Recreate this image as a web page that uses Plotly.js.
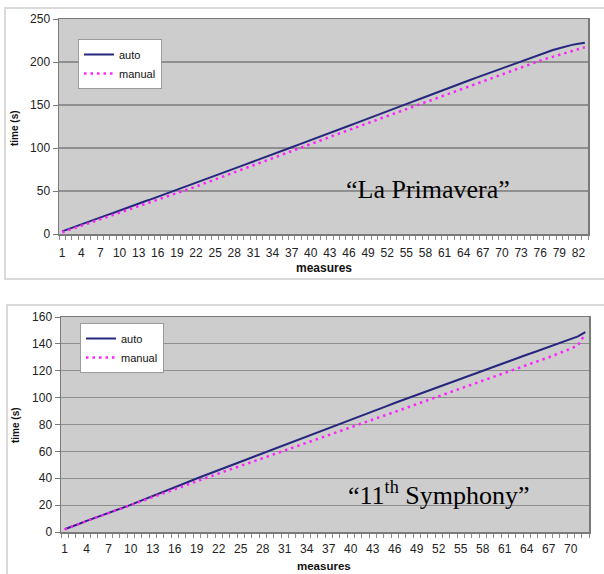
<!DOCTYPE html>
<html>
<head>
<meta charset="utf-8">
<script src="https://cdn.plot.ly/plotly-3.0.1.min.js"></script>
<style>html,body{margin:0;padding:0;background:#fff;}#chart{width:604px;height:574px;}</style>
</head>
<body>
<div id="chart"></div>
<script>
// ---------- data ----------
const measuresTop = [1,2,3,4,5,6,7,8,9,10,11,12,13,14,15,16,17,18,19,20,21,22,23,24,25,26,27,28,29,30,31,32,33,34,35,36,37,38,39,40,41,42,43,44,45,46,47,48,49,50,51,52,53,54,55,56,57,58,59,60,61,62,63,64,65,66,67,68,69,70,71,72,73,74,75,76,77,78,79,80,81,82,83];
const autoTop = [3.0,5.8,8.2,11.0,13.5,16.4,19.0,21.9,24.4,27.3,29.9,32.7,35.2,38.1,40.6,43.4,45.9,48.7,51.4,54.3,56.8,59.7,62.4,65.2,67.8,70.7,73.4,76.0,78.9,81.6,84.3,87.2,89.8,92.6,95.3,98.2,100.9,103.6,106.5,109.1,111.9,114.8,117.5,120.3,123.2,125.9,128.7,131.6,134.3,137.1,140.0,142.7,145.6,148.4,151.2,154.0,156.7,159.6,162.3,165.1,167.9,170.6,173.5,176.2,179.0,181.8,184.5,187.4,190.1,192.8,195.7,198.4,201.1,203.8,206.4,209.0,211.5,213.9,216.0,218.1,219.9,221.3,222.4];
const manualTop = [2.0,4.5,7.0,9.5,12.0,14.6,17.1,19.6,22.1,24.6,27.1,29.6,32.2,34.7,37.2,39.7,42.2,44.8,47.3,49.8,52.5,55.2,58.0,60.7,63.5,66.2,69.0,71.7,74.5,77.2,80.0,82.7,85.5,88.2,91.0,93.7,96.5,99.2,101.9,104.6,107.4,110.1,112.8,115.6,118.3,121.0,123.8,126.5,129.2,132.0,134.7,137.4,140.2,142.9,145.6,148.4,151.1,153.8,156.4,159.1,161.7,164.4,167.1,169.7,172.4,175.0,177.7,180.4,183.0,185.7,188.3,191.0,193.6,196.3,198.9,201.6,203.9,206.1,208.4,210.6,212.8,215.0,217.2];
const ticksTop = [1,4,7,10,13,16,19,22,25,28,31,34,37,40,43,46,49,52,55,58,61,64,67,70,73,76,79,82];

const measuresBot = [1,2,3,4,5,6,7,8,9,10,11,12,13,14,15,16,17,18,19,20,21,22,23,24,25,26,27,28,29,30,31,32,33,34,35,36,37,38,39,40,41,42,43,44,45,46,47,48,49,50,51,52,53,54,55,56,57,58,59,60,61,62,63,64,65,66,67,68,69,70,71,72];
const autoBot = [2.0,4.3,6.1,8.3,10.2,12.3,14.1,16.2,18.1,20.2,22.4,24.5,26.8,28.9,31.2,33.3,35.5,37.6,39.8,41.9,44.0,46.1,48.3,50.3,52.5,54.6,56.6,58.8,60.9,62.9,65.1,67.1,69.3,71.3,73.5,75.5,77.7,79.8,81.8,83.9,85.8,87.9,89.9,92.0,93.9,96.0,98.0,100.0,102.1,104.1,106.2,108.1,110.2,112.2,114.3,116.3,118.4,120.4,122.3,124.3,126.1,128.1,130.0,131.9,133.8,135.8,137.6,139.6,141.6,143.5,145.6,148.8];
const manualBot = [2.0,4.2,6.1,8.2,10.2,12.2,14.1,16.1,18.0,20.0,22.0,24.0,25.9,27.9,29.8,31.8,33.8,35.8,37.7,39.7,41.7,43.6,45.5,47.4,49.2,51.1,53.0,54.9,56.8,58.7,60.6,62.4,64.3,66.2,68.0,69.9,71.8,73.7,75.5,77.4,79.3,81.2,83.2,85.1,87.1,89.1,91.1,93.1,95.1,97.1,99.1,101.0,102.9,104.8,106.8,108.7,110.7,112.6,114.5,116.4,118.3,120.2,122.0,124.0,125.9,128.0,130.0,132.1,134.2,136.4,139.0,147.5];
const ticksBot = [1,4,7,10,13,16,19,22,25,28,31,34,37,40,43,46,49,52,55,58,61,64,67,70];

// ---------- geometry helpers (pixels -> paper) ----------
const W = 604, H = 574;
const px = x => x / W;
const py = y => 1 - y / H;

const AUTO_C = '#26267f', MAN_C = '#ff22ff';
const FONT = 'Liberation Sans, Arial, sans-serif';

const traces = [
  {x: measuresTop, y: autoTop, name: 'auto', type: 'scatter', mode: 'lines',
   line: {color: AUTO_C, width: 2}, xaxis: 'x', yaxis: 'y', legend: 'legend'},
  {x: measuresTop, y: manualTop, name: 'manual', type: 'scatter', mode: 'lines',
   line: {color: MAN_C, width: 2.5, dash: '2.5px,4px'}, xaxis: 'x', yaxis: 'y', legend: 'legend'},
  {x: measuresBot, y: autoBot, name: 'auto', type: 'scatter', mode: 'lines',
   line: {color: AUTO_C, width: 2}, xaxis: 'x2', yaxis: 'y2', legend: 'legend2'},
  {x: measuresBot, y: manualBot, name: 'manual', type: 'scatter', mode: 'lines',
   line: {color: MAN_C, width: 2.5, dash: '2.5px,4px'}, xaxis: 'x2', yaxis: 'y2', legend: 'legend2'}
];

function xaxisCfg(n, ticks, dom, anchor, standoff) {
  return {
    domain: dom, anchor: anchor, range: [0.5, n + 0.5],
    tickmode: 'array', tickvals: ticks, ticktext: ticks.map(String),
    ticks: '', showgrid: false, zeroline: false,
    showline: true, linecolor: '#7a7a7a', linewidth: 1.5, mirror: true,
    tickfont: {family: FONT, size: 12, color: '#222'},
    ticklabelstandoff: standoff,
    minor: {tickmode: 'linear', tick0: 0.5, dtick: 1, ticks: 'outside', ticklen: 4,
            tickcolor: '#8a8a8a', tickwidth: 1, showgrid: false}
  };
}
function yaxisCfg(max, dt, dom, anchor) {
  return {
    domain: dom, anchor: anchor, range: [0, max], dtick: dt, tick0: 0,
    ticks: 'outside', ticklen: 5, tickcolor: '#7a7a7a',
    showgrid: true, gridcolor: '#8f8f8f', gridwidth: 1.2, zeroline: false,
    showline: true, linecolor: '#7a7a7a', linewidth: 1.5, mirror: true,
    tickfont: {family: FONT, size: 12, color: '#222'}
  };
}

const legendCfg = (x, y) => ({
  x: x, y: y, xanchor: 'left', yanchor: 'top', xref: 'paper', yref: 'paper',
  bgcolor: '#ffffff', bordercolor: '#9a9a9a', borderwidth: 1,
  font: {family: FONT, size: 11, color: '#111'}, tracegroupgap: 0, itemwidth: 30
});

const layout = {
  width: W, height: H, margin: {l: 0, r: 0, t: 0, b: 0},
  paper_bgcolor: '#ffffff', plot_bgcolor: '#cdcdcd', showlegend: true,
  xaxis: xaxisCfg(83, ticksTop, [px(59), px(588)], 'y', 7),
  yaxis: yaxisCfg(250, 50, [py(234), py(19)], 'x'),
  xaxis2: xaxisCfg(72, ticksBot, [px(61), px(589)], 'y2', 5),
  yaxis2: yaxisCfg(160, 20, [py(532), py(317)], 'x2'),
  legend: legendCfg(px(78), py(39)),
  legend2: legendCfg(px(80), py(323)),
  shapes: [
    {type: 'rect', xref: 'paper', yref: 'paper', x0: px(5), x1: px(640), y0: py(279), y1: py(8),
     line: {color: '#dadada', width: 2}, fillcolor: 'rgba(0,0,0,0)', layer: 'below'},
    {type: 'rect', xref: 'paper', yref: 'paper', x0: px(7), x1: px(640), y0: py(620), y1: py(305),
     line: {color: '#dadada', width: 2}, fillcolor: 'rgba(0,0,0,0)', layer: 'below'}
  ],
  annotations: [
    {text: '“La Primavera”', xref: 'paper', yref: 'paper', x: px(428), y: py(190),
     showarrow: false, xanchor: 'center', yanchor: 'middle',
     font: {family: 'Liberation Serif, Times New Roman, serif', size: 26, color: '#000'}},
    {text: '“11<sup>th</sup> Symphony”', xref: 'paper', yref: 'paper', x: px(438), y: py(493),
     showarrow: false, xanchor: 'center', yanchor: 'middle',
     font: {family: 'Liberation Serif, Times New Roman, serif', size: 26, color: '#000'}},
    {text: '<b>measures</b>', xref: 'paper', yref: 'paper', x: px(324), y: py(268),
     showarrow: false, xanchor: 'center', yanchor: 'middle',
     font: {family: FONT, size: 12, color: '#111'}},
    {text: '<b>measures</b>', xref: 'paper', yref: 'paper', x: px(324), y: py(566),
     showarrow: false, xanchor: 'center', yanchor: 'middle',
     font: {family: FONT, size: 11.5, color: '#111'}},
    {text: '<b>time (s)</b>', xref: 'paper', yref: 'paper', x: px(15), y: py(128), textangle: -90,
     showarrow: false, xanchor: 'center', yanchor: 'middle',
     font: {family: FONT, size: 10, color: '#111'}},
    {text: '<b>time (s)</b>', xref: 'paper', yref: 'paper', x: px(15), y: py(425), textangle: -90,
     showarrow: false, xanchor: 'center', yanchor: 'middle',
     font: {family: FONT, size: 10, color: '#111'}}
  ]
};

Plotly.newPlot('chart', traces, layout, {staticPlot: true, displayModeBar: false});
</script>
</body>
</html>
